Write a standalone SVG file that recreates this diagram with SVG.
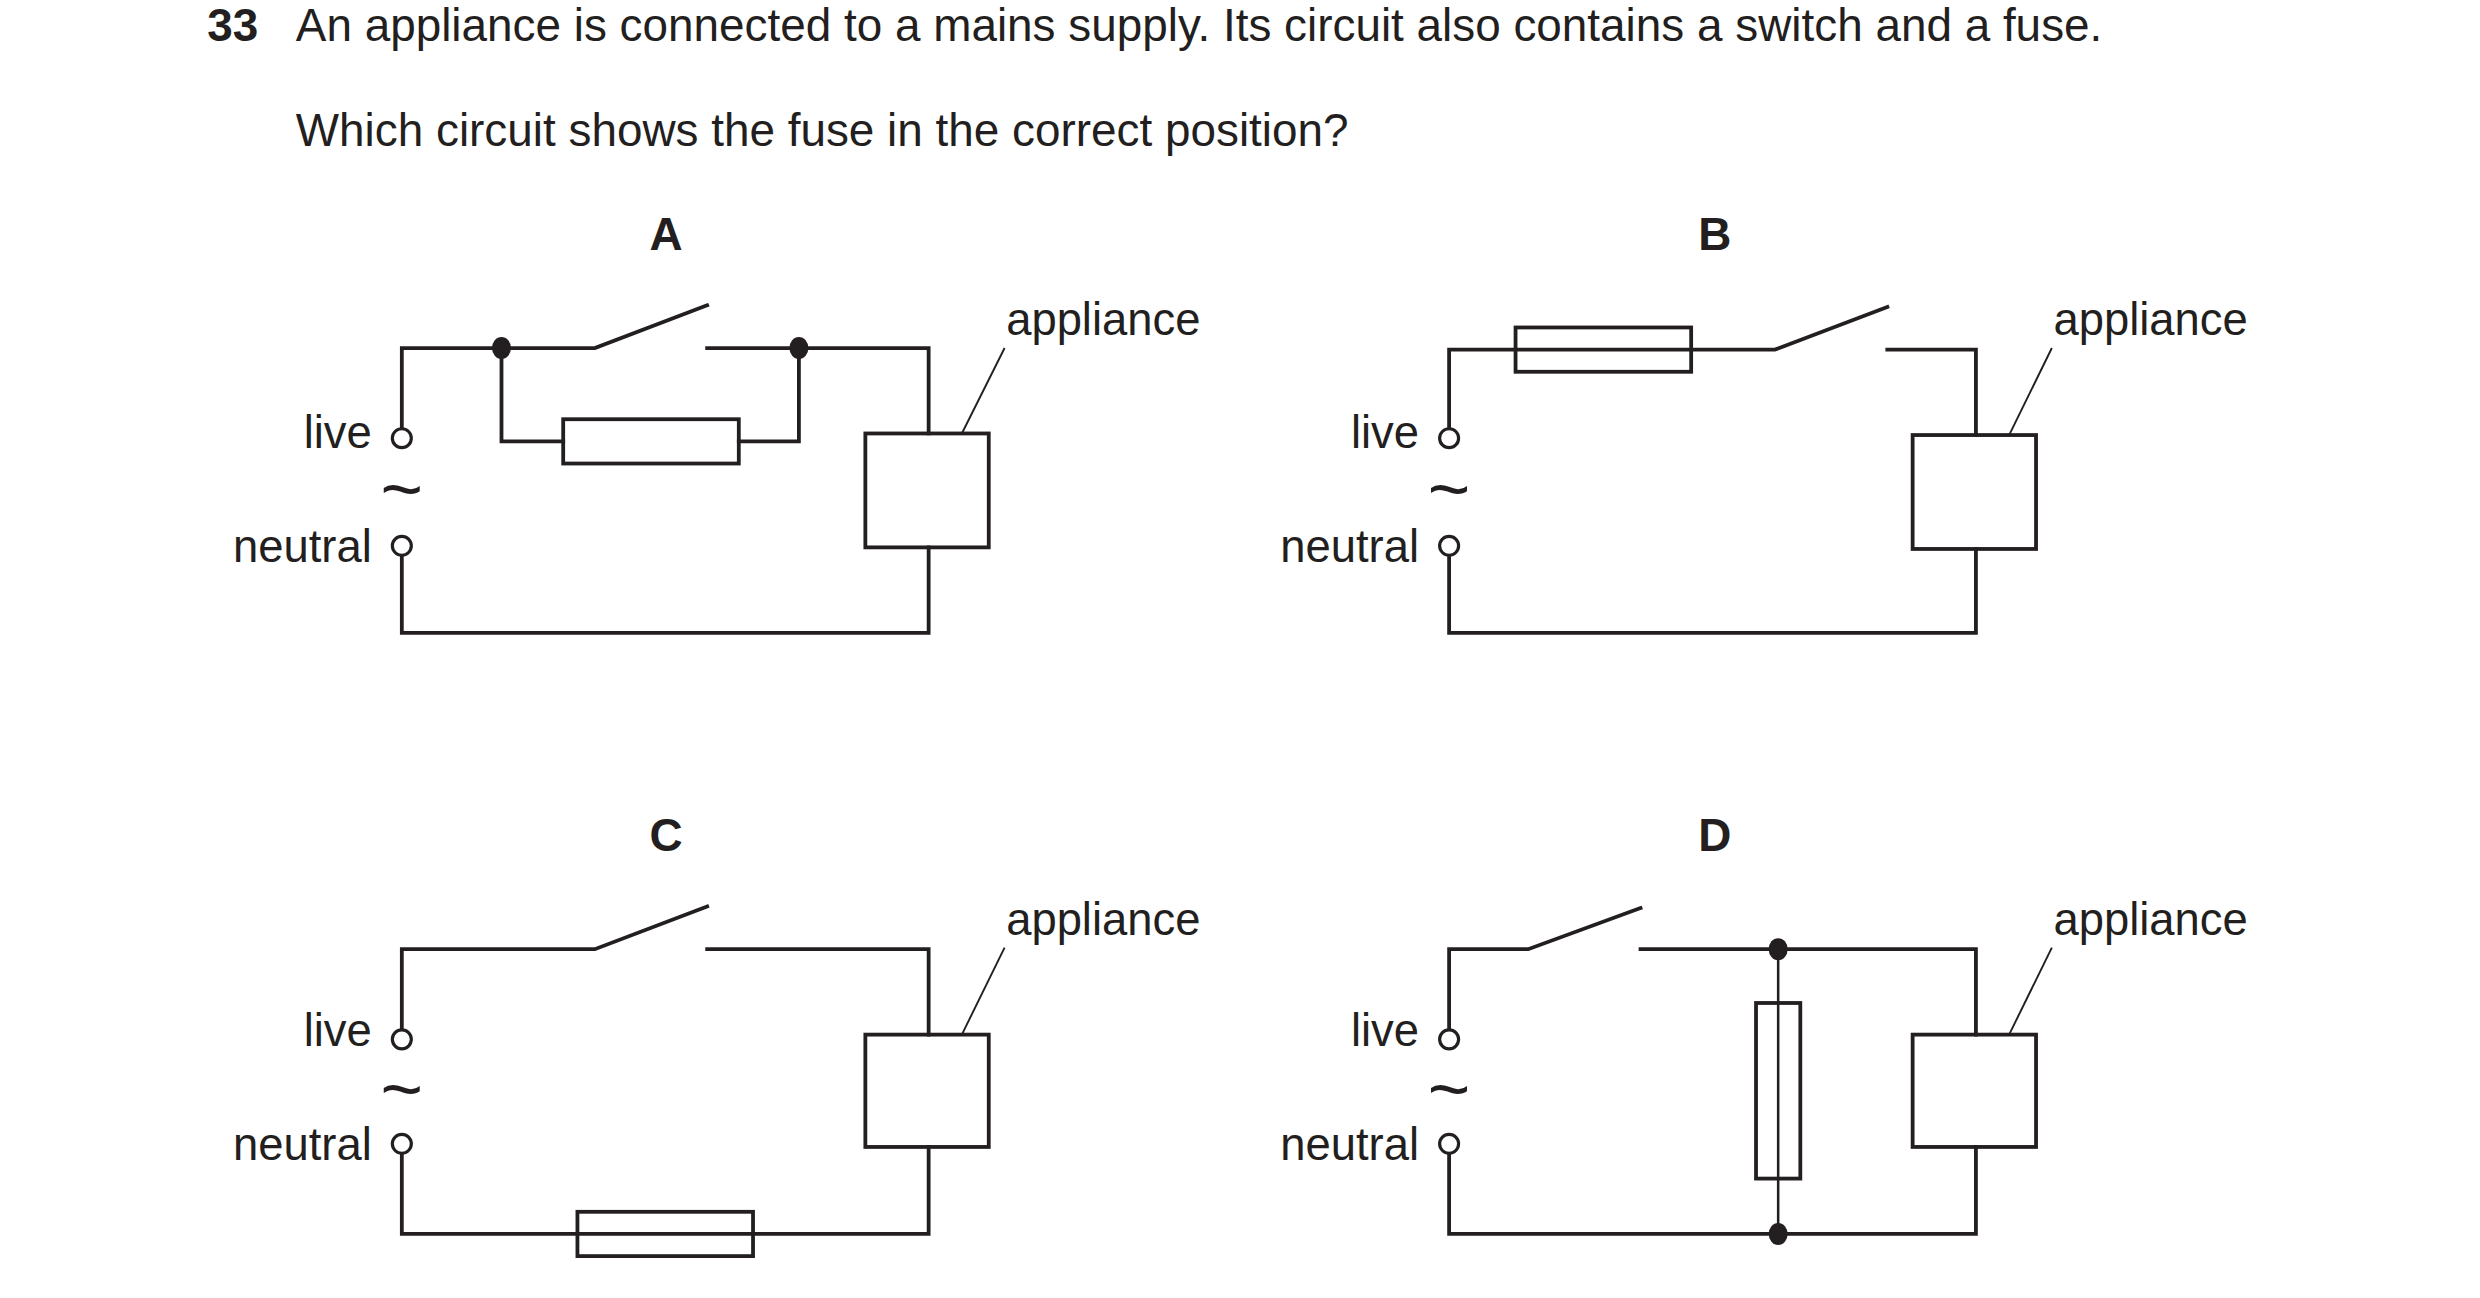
<svg xmlns="http://www.w3.org/2000/svg" width="2480" height="1298" viewBox="0 0 2480 1298">
<style>
text{font-family:"Liberation Sans",Arial,sans-serif;fill:#231f20}
.t{font-size:29px}
.b{font-weight:bold}
.l{font-size:28.7px}
.s{font-size:46px}
.w{fill:none;stroke:#231f20;stroke-width:2.4;stroke-linecap:square}
.th{fill:none;stroke:#231f20;stroke-width:1.2}
.c{fill:#fff;stroke:#231f20;stroke-width:2}
.d{fill:#231f20}
</style>
<rect width="2480" height="1298" fill="#fff"/>
<g transform="scale(1.582)">
<g id="title">
<text class="t b" x="131" y="26">33</text>
<text class="t" x="187" y="26">An appliance is connected to a mains supply. Its circuit also contains a switch and a fuse.</text>
<text class="t" x="187" y="92">Which circuit shows the fuse in the correct position?</text>
</g>
<g id="circuitA">
<text class="t b" x="421" y="158" text-anchor="middle">A</text>
<path class="w" d="M254 271V220H376L447 193M447 220H587V274M587 346V400H254V351M317 220V279H356M467 279H505V220"/>
<rect class="w" x="356" y="265" width="111" height="28"/>
<rect class="w" x="547" y="274" width="78" height="72"/>
<ellipse class="d" cx="317" cy="220" rx="6" ry="7"/><ellipse class="d" cx="505" cy="220" rx="6" ry="7"/>
<circle class="c" cx="254" cy="277" r="6"/><circle class="c" cx="254" cy="345" r="6"/>
<path class="th" d="M608 274L635 220"/>
<text class="l" x="636" y="212">appliance</text>
<text class="l" x="235" y="283" text-anchor="end">live</text>
<text class="l" x="235" y="355" text-anchor="end">neutral</text>
<text class="s" x="254" y="325" text-anchor="middle">~</text>
</g>
<g id="circuitB">
<text class="t b" x="1084" y="158" text-anchor="middle">B</text>
<path class="w" d="M916 271V221H1122L1193 194M1193 221H1249V275M1249 347V400H916V351"/>
<rect class="w" x="958" y="207" width="111" height="28"/>
<rect class="w" x="1209" y="275" width="78" height="72"/>
<circle class="c" cx="916" cy="277" r="6"/><circle class="c" cx="916" cy="345" r="6"/>
<path class="th" d="M1270 275L1297 220"/>
<text class="l" x="1298" y="212">appliance</text>
<text class="l" x="897" y="283" text-anchor="end">live</text>
<text class="l" x="897" y="355" text-anchor="end">neutral</text>
<text class="s" x="916" y="325" text-anchor="middle">~</text>
</g>
<g id="circuitC">
<text class="t b" x="421" y="538" text-anchor="middle">C</text>
<path class="w" d="M254 651V600H376L447 573M447 600H587V654M587 725V780H254V729"/>
<rect class="w" x="365" y="766" width="111" height="28" fill="#fff"/>
<rect class="w" x="547" y="654" width="78" height="71"/>
<circle class="c" cx="254" cy="657" r="6"/><circle class="c" cx="254" cy="723" r="6"/>
<path class="th" d="M608 654L635 599"/>
<text class="l" x="636" y="591">appliance</text>
<text class="l" x="235" y="661" text-anchor="end">live</text>
<text class="l" x="235" y="733" text-anchor="end">neutral</text>
<text class="s" x="254" y="704" text-anchor="middle">~</text>
</g>
<g id="circuitD">
<text class="t b" x="1084" y="538" text-anchor="middle">D</text>
<path class="w" d="M916 651V600H966L1037 574M1037 600H1249V654M1249 725V780H916V729"/>
<path class="th" d="M1124 600V780" style="stroke-width:1.6"/>
<rect class="w" x="1110" y="634" width="28" height="111"/>
<rect class="w" x="1209" y="654" width="78" height="71"/>
<ellipse class="d" cx="1124" cy="600" rx="6" ry="7"/><ellipse class="d" cx="1124" cy="780" rx="6" ry="7"/>
<circle class="c" cx="916" cy="657" r="6"/><circle class="c" cx="916" cy="723" r="6"/>
<path class="th" d="M1270 654L1297 599"/>
<text class="l" x="1298" y="591">appliance</text>
<text class="l" x="897" y="661" text-anchor="end">live</text>
<text class="l" x="897" y="733" text-anchor="end">neutral</text>
<text class="s" x="916" y="704" text-anchor="middle">~</text>
</g>
</g>
</svg>
